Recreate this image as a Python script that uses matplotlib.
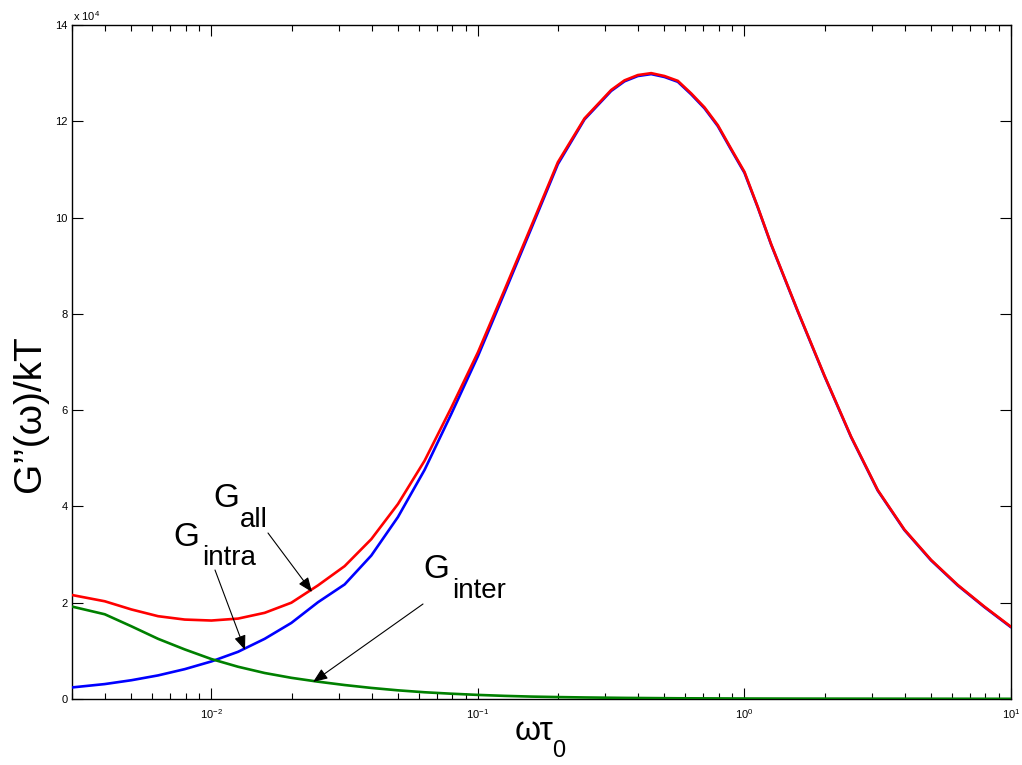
import matplotlib
matplotlib.use("Agg")
import matplotlib.pyplot as plt
from matplotlib.ticker import FixedLocator, FuncFormatter

plt.rcParams['font.family'] = ['Liberation Sans', 'DejaVu Sans']
plt.rcParams['mathtext.default'] = 'regular'

# log10(omega*tau0) positions where the curves were read
log_wt = [-2.523, -2.4, -2.3, -2.2, -2.1, -2.0, -1.9, -1.8, -1.7, -1.6,
          -1.5, -1.4, -1.3, -1.2, -1.1, -1.0, -0.9, -0.8, -0.7, -0.6, -0.5,
          -0.45, -0.4, -0.35, -0.3, -0.25, -0.2, -0.15, -0.1, -0.05, 0.0, 0.05,
          0.1, 0.2, 0.3, 0.4, 0.5, 0.6, 0.7, 0.8, 0.9, 1.0]

# G''/kT in units of 1e4
g_all = [2.16, 2.03, 1.86, 1.72, 1.65, 1.63, 1.67, 1.79, 2.00, 2.36,
         2.76, 3.32, 4.05, 4.95, 6.05, 7.20, 8.50, 9.82, 11.15, 12.06, 12.65,
         12.85, 12.96, 13.00, 12.94, 12.84, 12.58, 12.29, 11.92, 11.43, 10.95, 10.22,
         9.45, 8.06, 6.72, 5.45, 4.34, 3.52, 2.89, 2.37, 1.92, 1.50]

g_intra = [0.24, 0.31, 0.39, 0.49, 0.62, 0.78, 0.98, 1.25, 1.58, 2.01,
           2.38, 2.98, 3.78, 4.76, 5.92, 7.12, 8.44, 9.77, 11.11, 12.04, 12.63,
           12.83, 12.94, 12.98, 12.92, 12.82, 12.56, 12.27, 11.90, 11.41, 10.93, 10.21,
           9.44, 8.05, 6.71, 5.44, 4.33, 3.51, 2.88, 2.36, 1.91, 1.49]

g_inter = [1.92, 1.76, 1.51, 1.25, 1.03, 0.83, 0.67, 0.54, 0.44, 0.36,
           0.29, 0.23, 0.18, 0.14, 0.11, 0.085, 0.065, 0.05, 0.04, 0.032, 0.026,
           0.023, 0.021, 0.019, 0.017, 0.015, 0.014, 0.013, 0.012, 0.011, 0.010, 0.0095,
           0.009, 0.008, 0.0075, 0.007, 0.0065, 0.006, 0.0055, 0.005, 0.0045, 0.004]

y_ticks = [0, 2, 4, 6, 8, 10, 12, 14]

wt = [10 ** v for v in log_wt]
scale = 1e4

fig = plt.figure(figsize=(10.22, 7.65), dpi=100)
ax = fig.add_axes([72 / 1022, 66 / 765, 939 / 1022, 674 / 765])

line_kw = dict(lw=1.9, zorder=3, solid_joinstyle='round', solid_capstyle='round')
ax.plot(wt, [v * scale for v in g_intra], color='#0000ff', **line_kw)
ax.plot(wt, [v * scale for v in g_all], color='#ff0000', **line_kw)
ax.plot(wt, [v * scale for v in g_inter], color='#008000', **line_kw)

ax.set_xscale('log')
ax.set_xlim(0.003, 10)
ax.set_ylim(0, 14 * scale)
ax.yaxis.set_major_locator(FixedLocator([t * scale for t in y_ticks]))
ax.yaxis.set_major_formatter(FuncFormatter(lambda v, p: '%d' % round(v / scale)))

ax.tick_params(which='both', direction='in', top=True, right=True,
               labelsize=8, width=0.8, colors='black')
ax.tick_params(which='major', length=8)
ax.tick_params(which='minor', length=4)
ax.tick_params(axis='x', pad=6)
ax.tick_params(axis='y', pad=3)
for s in ax.spines.values():
    s.set_linewidth(1.0)

fig.text(73 / 1022, 1 - 21 / 765, r'x 10$^{4}$', fontsize=8)

# axis labels
fig.text(30 / 1022, 1 - 414 / 765, 'G\u2019\u2019(\u03c9)/kT', rotation=90,
         fontsize=28, ha='center', va='center')
fig.text(515 / 1022, 1 - 740 / 765, '\u03c9\u03c4', fontsize=24, ha='left', va='baseline')
fig.text(552 / 1022, 1 - 757 / 765, '0', fontsize=17, ha='left', va='baseline')


def label(xg, yg, xs, ys, sub):
    fig.text(xg / 1022, 1 - yg / 765, 'G', fontsize=24, ha='left', va='baseline')
    fig.text(xs / 1022, 1 - ys / 765, sub, fontsize=20, ha='left', va='baseline')


label(213, 507, 240, 527, 'all')
label(173, 546, 202, 565, 'intra')
label(423, 578, 452, 598, 'inter')

arrow = dict(arrowstyle='-|>,head_length=0.55,head_width=0.22', color='black',
             lw=0.8, shrinkA=0, shrinkB=0, mutation_scale=16)
for start, tip in [((268, 533), (312, 592)),
                   ((215, 570), (245, 650)),
                   ((423, 604), (313, 682))]:
    ax.annotate('', xy=(tip[0], 765 - tip[1]), xycoords='figure pixels',
                xytext=(start[0], 765 - start[1]), textcoords='figure pixels',
                arrowprops=arrow)

fig.savefig('out.png', dpi=100)
